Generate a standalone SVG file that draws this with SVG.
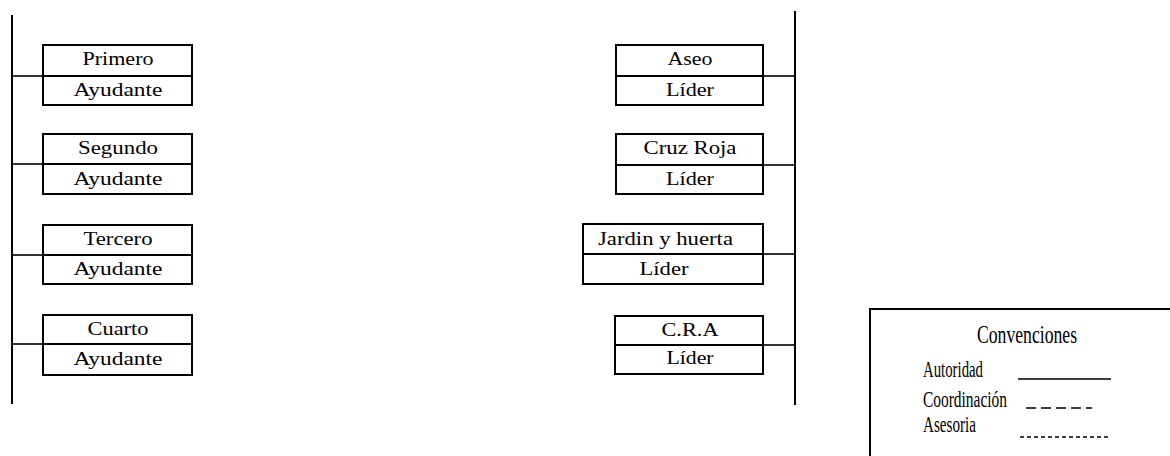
<svg xmlns="http://www.w3.org/2000/svg" width="1170" height="456" viewBox="0 0 1170 456">
<style>
.box{fill:#fff;stroke:#000;stroke-width:2}
.div{stroke:#000;stroke-width:2}
.t{font-family:"Liberation Serif","Times New Roman",serif;font-size:18px;fill:#000;text-anchor:middle}
.lg{font-family:"Liberation Serif","Times New Roman",serif;font-size:23px;fill:#000}
.ln{stroke:#000;stroke-width:2;fill:none}
.cn{stroke:#000;stroke-width:1.6;fill:none}
</style>
<rect width="1170" height="456" fill="#fff"/>
<g id="connectors">
<line class="ln" x1="12" y1="15" x2="12" y2="404"/>
<line class="ln" x1="795" y1="11" x2="795" y2="405"/>
<line class="cn" x1="12" y1="76" x2="43" y2="76"/>
<line class="cn" x1="12" y1="164" x2="43" y2="164"/>
<line class="cn" x1="12" y1="255" x2="43" y2="255"/>
<line class="cn" x1="12" y1="344" x2="43" y2="344"/>
<line class="cn" x1="763" y1="76" x2="795" y2="76"/>
<line class="cn" x1="763" y1="165" x2="795" y2="165"/>
<line class="cn" x1="763" y1="254" x2="795" y2="254"/>
<line class="cn" x1="763" y1="345" x2="795" y2="345"/>
</g>
<g id="primero">
<rect class="box" x="43" y="45" width="149" height="60"/>
<line class="div" x1="43" y1="76" x2="192" y2="76"/>
<text class="t" x="118" y="65" textLength="71" lengthAdjust="spacingAndGlyphs">Primero</text>
<text class="t" x="118" y="96" textLength="89" lengthAdjust="spacingAndGlyphs">Ayudante</text>
</g>
<g id="segundo">
<rect class="box" x="43" y="134" width="149" height="60"/>
<line class="div" x1="43" y1="164" x2="192" y2="164"/>
<text class="t" x="118" y="154" textLength="80" lengthAdjust="spacingAndGlyphs">Segundo</text>
<text class="t" x="118" y="185" textLength="89" lengthAdjust="spacingAndGlyphs">Ayudante</text>
</g>
<g id="tercero">
<rect class="box" x="43" y="225" width="149" height="59"/>
<line class="div" x1="43" y1="255" x2="192" y2="255"/>
<text class="t" x="118" y="245" textLength="69" lengthAdjust="spacingAndGlyphs">Tercero</text>
<text class="t" x="118" y="275" textLength="89" lengthAdjust="spacingAndGlyphs">Ayudante</text>
</g>
<g id="cuarto">
<rect class="box" x="43" y="315" width="149" height="60"/>
<line class="div" x1="43" y1="344" x2="192" y2="344"/>
<text class="t" x="118" y="335" textLength="61" lengthAdjust="spacingAndGlyphs">Cuarto</text>
<text class="t" x="118" y="365" textLength="89" lengthAdjust="spacingAndGlyphs">Ayudante</text>
</g>
<g id="aseo">
<rect class="box" x="616" y="45" width="147" height="60"/>
<line class="div" x1="616" y1="76" x2="763" y2="76"/>
<text class="t" x="690" y="65" textLength="45" lengthAdjust="spacingAndGlyphs">Aseo</text>
<text class="t" x="690" y="96" textLength="48" lengthAdjust="spacingAndGlyphs">Líder</text>
</g>
<g id="cruzroja">
<rect class="box" x="616" y="134" width="147" height="60"/>
<line class="div" x1="616" y1="165" x2="763" y2="165"/>
<text class="t" x="690" y="154" textLength="93" lengthAdjust="spacingAndGlyphs">Cruz Roja</text>
<text class="t" x="690" y="185" textLength="48" lengthAdjust="spacingAndGlyphs">Líder</text>
</g>
<g id="jardin">
<rect class="box" x="583" y="224" width="180" height="60"/>
<line class="div" x1="583" y1="254" x2="763" y2="254"/>
<text class="t" x="665.5" y="245" textLength="135" lengthAdjust="spacingAndGlyphs">Jardin y huerta</text>
<text class="t" x="664" y="275" textLength="49" lengthAdjust="spacingAndGlyphs">Líder</text>
</g>
<g id="cra">
<rect class="box" x="615" y="316" width="148" height="58"/>
<line class="div" x1="615" y1="345" x2="763" y2="345"/>
<text class="t" x="690" y="336" textLength="57" lengthAdjust="spacingAndGlyphs">C.R.A</text>
<text class="t" x="690" y="364" textLength="47" lengthAdjust="spacingAndGlyphs">Líder</text>
</g>
<g id="legend">
<polyline class="ln" points="870,456 870,309 1170,309"/>
<text class="lg" x="1027" y="343" text-anchor="middle" style="font-size:26px" textLength="100" lengthAdjust="spacingAndGlyphs">Convenciones</text>
<text class="lg" x="923" y="377" textLength="60" lengthAdjust="spacingAndGlyphs">Autoridad</text>
<text class="lg" x="923" y="407" textLength="84" lengthAdjust="spacingAndGlyphs">Coordinación</text>
<text class="lg" x="923" y="432" textLength="53" lengthAdjust="spacingAndGlyphs">Asesoria</text>
<line stroke="#000" stroke-width="1.6" x1="1018" y1="379" x2="1111" y2="379"/>
<line stroke="#000" stroke-width="1.6" stroke-dasharray="10,5" x1="1026" y1="408" x2="1092" y2="408"/>
<line stroke="#000" stroke-width="1.6" stroke-dasharray="4,3" x1="1020" y1="437" x2="1109" y2="437"/>
</g>
</svg>
